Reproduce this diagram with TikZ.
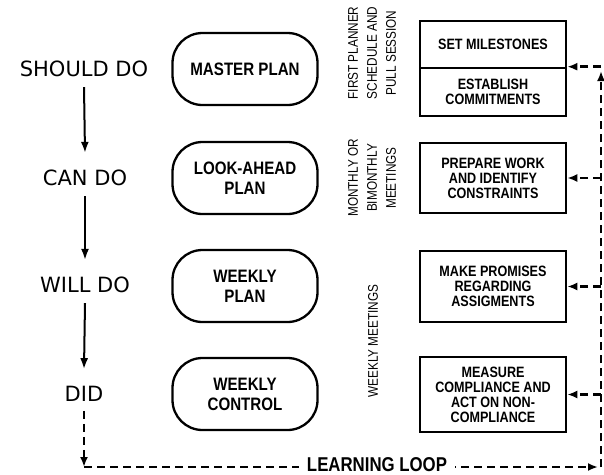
\documentclass[tikz,border=0pt]{standalone}
\usepackage{fontspec}
\setmainfont{Liberation Sans}
\newfontfamily\handfont{DejaVu Sans}
\newfontfamily\narrowfont[FakeStretch=0.84]{Liberation Sans}
\usepackage{tikz}
\usetikzlibrary{positioning,calc,arrows.meta}

\tikzset{
  plan/.style={draw, line width=2.3pt, rounded corners=30pt, minimum width=145pt,
    minimum height=72pt, align=center, font=\narrowfont\bfseries\fontsize{18}{20}\selectfont},
  task/.style={draw, line width=2.6pt, minimum width=146pt, align=center,
    font=\narrowfont\bfseries\fontsize{15}{15}\selectfont},
  stage/.style={font=\handfont\fontsize{21}{24}\selectfont, inner sep=0pt},
  note/.style={rotate=90, align=center, font=\narrowfont\fontsize{14}{19}\selectfont},
  flow/.style={line width=2pt, -{Latex[length=11pt,width=8pt]}},
  loopline/.style={line width=2.6pt, dash pattern=on 8pt off 5pt},
  looparrow/.style={loopline, -{Latex[length=10pt,width=8pt]}}
}

\begin{document}
\begin{tikzpicture}[x=1pt,y=-1pt]
\useasboundingbox (0,0) rectangle (604,474);

\node[stage] (should) at (84,69) {SHOULD DO};
\node[stage] (can) at (85,178) {CAN DO};
\node[stage] (will) at (85,285) {WILL DO};
\node[stage] (did) at (84,394) {DID};

\node[plan] (master) at (245,69) {MASTER PLAN};
\node[plan] (look) at (245,178) {LOOK-AHEAD\\PLAN};
\node[plan] (wplan) at (245,286) {WEEKLY\\PLAN};
\node[plan] (wctrl) at (245,394) {WEEKLY\\CONTROL};

\node[note] (first) at (372,53) {FIRST PLANNER\\SCHEDULE AND\\PULL SESSION};
\node[note] (monthly) at (372,178) {MONTHLY OR\\BIMONTHLY\\MEETINGS};
\node[note] (weekly) at (373,341) {WEEKLY MEETINGS};

\node[task, minimum height=47pt] (miles) at (493,44.5) {SET MILESTONES};
\node[task, minimum height=48pt] (commit) at (493,92) {ESTABLISH\\COMMITMENTS};
\node[task, minimum height=70pt] (prep) at (493,178) {PREPARE WORK\\AND IDENTIFY\\CONSTRAINTS};
\node[task, minimum height=71pt] (promise) at (493,286.5) {MAKE PROMISES\\REGARDING\\ASSIGMENTS};
\node[task, minimum height=75pt] (measure) at (493,394.5) {MEASURE\\COMPLIANCE AND\\ACT ON NON-\\COMPLIANCE};

\draw[flow] ([yshift=-10pt]should.south) -- ([yshift=17pt]can.north);
\draw[flow] ([yshift=-10pt]can.south) -- ([yshift=17pt]will.north);
\draw[flow] ([yshift=-10pt]will.south) -- ([yshift=17pt]did.north);

% learning loop
\coordinate (base) at (0,467);
\coordinate (rail) at (601,0);
\coordinate (cornerL) at (did |- base);
\coordinate (cornerR) at (rail |- base);
\coordinate (top) at (601,71);
\draw[looparrow] ([yshift=-9pt]did.south) -- (cornerL);
\draw[looparrow] (cornerL) -- node[pos=0.57, anchor=base, yshift=-4pt, fill=white,
  inner xsep=8pt, inner ysep=1pt, font=\narrowfont\bfseries\fontsize{20}{21}\selectfont]
  {LEARNING LOOP} ([xshift=-3pt]cornerR);
\draw[looparrow] (cornerR) -- (top);
\draw[looparrow] (rail |- commit.north) -- (commit.north east);
\draw[looparrow] (rail |- prep.east) -- (prep.east);
\draw[looparrow] (rail |- promise.east) -- (promise.east);
\draw[looparrow] (rail |- measure.east) -- (measure.east);
\end{tikzpicture}
\end{document}
